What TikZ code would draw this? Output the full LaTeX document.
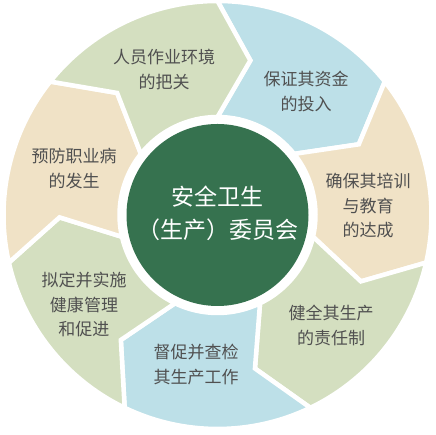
\documentclass[tikz,border=0pt]{standalone}
\usepackage{fontspec}
\newfontfamily\cjk{Noto Sans CJK SC}
\definecolor{segG}{HTML}{D4DFC0}
\definecolor{segB}{HTML}{BDE0E8}
\definecolor{segY}{HTML}{F0E2C6}
\definecolor{hub}{HTML}{36724F}
\definecolor{txt}{HTML}{505050}
\tikzset{
  seg/.style={draw=white,line width=4.5pt,line join=miter},
  lab/.style={font=\cjk\fontsize{17}{24.5}\selectfont,text=txt,align=center,inner sep=0pt},
  hublab/.style={font=\cjk\fontsize{23}{33}\selectfont,text=white,align=center,inner sep=0pt},
}
\begin{document}
\begin{tikzpicture}[x=1pt,y=1pt]
\useasboundingbox (0,0) rectangle (436,435);
\def\Ro{214}\def\Ri{98}\def\Rm{158}\def\dl{12}
\begin{scope}[shift={(217.5,220)}]
\foreach \k/\c in {0/segB,1/segY,2/segG,3/segB,4/segG,5/segY,6/segG}{
  \pgfmathsetmacro{\a}{90-\k*360/7}
  \pgfmathsetmacro{\b}{\a-360/7}
  \pgfmathsetmacro{\bt}{\b-\dl}
  \pgfmathsetmacro{\at}{\a-\dl}
  \fill[\c,seg] (\a:\Ro) arc[start angle=\a,end angle=\b,radius=\Ro]
     -- (\bt:\Rm) -- (\b:\Ri) arc[start angle=\b,end angle=\a,radius=\Ri]
     -- (\at:\Rm) -- cycle;
}
\node[circle,fill=hub,minimum size=182pt,inner sep=0pt] (hubc) at (0,0) {};
\end{scope}
\node[hublab] (hubt) at (217.5,435-213.5) {安全卫生\\（生产）委员会};
\node[lab] (s0) at (306,435-91.5) {保证其资金\\的投入};
\node[lab] (s1) at (368,435-206) {确保其培训\\与教育\\的达成};
\node[lab] (s2) at (331,435-325.5) {健全其生产\\的责任制};
\node[lab] (s3) at (196,435-364.5) {督促并查检\\其生产工作};
\node[lab] (s4) at (84,435-305) {拟定并实施\\健康管理\\和促进};
\node[lab] (s5) at (74,435-168.5) {预防职业病\\的发生};
\node[lab] (s6) at (164,435-69.5) {人员作业环境\\的把关};
\end{tikzpicture}
\end{document}
